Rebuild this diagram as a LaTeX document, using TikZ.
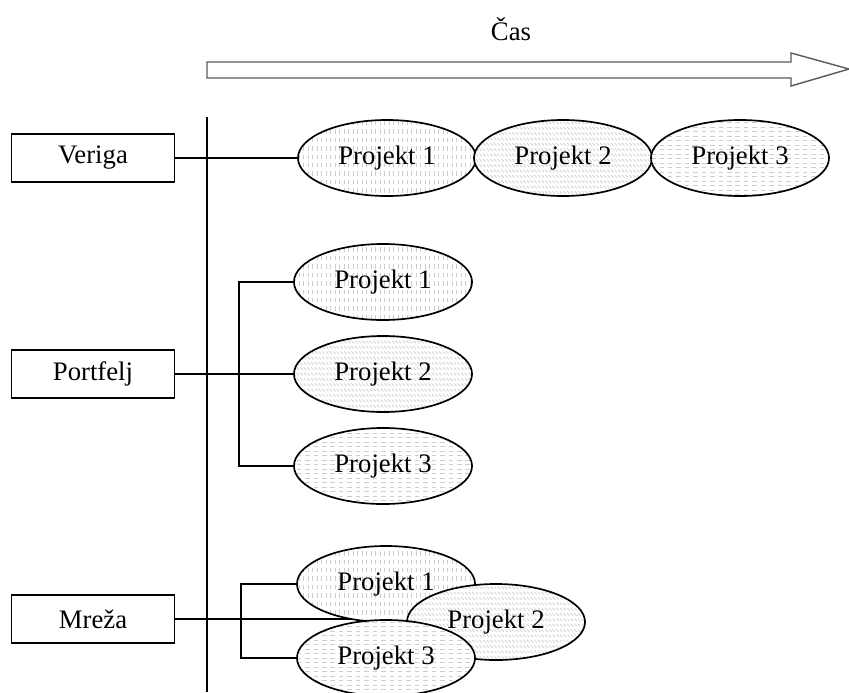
\documentclass[tikz,border=0pt]{standalone}
\usepackage{fontspec}
\setmainfont{Liberation Serif}
\usetikzlibrary{shapes.geometric,patterns}
\definecolor{crtagray}{RGB}{90, 90, 90}
\definecolor{vzorec}{RGB}{205, 205, 205}

% vzorci za polnjenje elips
\pgfdeclarepatternformonly{navpicne}{\pgfpoint{-1pt}{-1pt}}{\pgfpoint{5pt}{7pt}}{\pgfpoint{3.2pt}{6pt}}{%
  \pgfsetlinewidth{0.5pt}%
  \pgfpathmoveto{\pgfpoint{1.6pt}{1pt}}\pgfpathlineto{\pgfpoint{1.6pt}{4.2pt}}\pgfusepath{stroke}}
\pgfdeclarepatternformonly{posevne}{\pgfpoint{-1pt}{-1pt}}{\pgfpoint{4pt}{5pt}}{\pgfpoint{2.6pt}{3.8pt}}{%
  \pgfsetlinewidth{0.5pt}%
  \pgfpathmoveto{\pgfpoint{0.3pt}{2.8pt}}\pgfpathlineto{\pgfpoint{2.1pt}{1pt}}\pgfusepath{stroke}}
\pgfdeclarepatternformonly{vodoravne}{\pgfpoint{-1pt}{-1pt}}{\pgfpoint{7pt}{5pt}}{\pgfpoint{6pt}{3.2pt}}{%
  \pgfsetlinewidth{0.5pt}%
  \pgfpathmoveto{\pgfpoint{1pt}{1.6pt}}\pgfpathlineto{\pgfpoint{4.2pt}{1.6pt}}\pgfusepath{stroke}}

\tikzset{
  okvir/.style={draw, line width=1.2pt, minimum height=1.2cm, minimum width=4.08cm, inner sep=0pt},
  projekt/.style={ellipse, draw, line width=1.2pt, minimum width=4.45cm, minimum height=1.9cm,
    preaction={fill=white}, pattern color=vzorec, inner sep=0pt},
  p1/.style={projekt, pattern=navpicne},
  p2/.style={projekt, pattern=posevne},
  p3/.style={projekt, pattern=vodoravne},
  crta/.style={line width=1.2pt}
}

\begin{document}
\begin{tikzpicture}[x=0.025cm, y=-0.025cm, font=\fontsize{19}{23}\selectfont]
    \useasboundingbox (0,0) rectangle (849,692);

    % cas
    \node (cas) at (511,29) {Čas};
    \draw[draw=crtagray, line width=1pt, fill=white]
      (207,62) -- (791,62) -- (791,53) -- (849,69) -- (791,86) -- (791,78) -- (207,78) -- cycle;
    \coordinate (os1) at (207,117);
    \coordinate (os2) at (207,692);
    \draw[crta] (os1) -- (os2);

    % veriga
    \node[okvir] (veriga) at (93,158) {Veriga};
    \node[p1] (v1) at (387,158) {Projekt 1};
    \node[p2] (v2) at (563,158) {Projekt 2};
    \node[p3] (v3) at (740,158) {Projekt 3};
    \draw[crta] (veriga.east) -- (v1.west);

    % portfelj
    \node[okvir] (portfelj) at (93,374) {Portfelj};
    \node[p1] (f1) at (383,282) {Projekt 1};
    \node[p2] (f2) at (383,374) {Projekt 2};
    \node[p3] (f3) at (383,466) {Projekt 3};
    \draw[crta] (portfelj.east) -- (f2.west);
    \draw[crta] (f1.west) -- ++(-54,0) |- (f3.west);

    % mreza
    \node[okvir] (mreza) at (93,619) {Mreža};
    \draw[crta] (mreza.east) -- (mreza.east -| 497,0);
    \node[p1] (m1) at (386,584) {Projekt 1};
    \node[p2] (m2) at (496,622) {Projekt 2};
    \node[p3] (m3) at (386,658) {Projekt 3};
    \draw[crta] (m1.west) -- ++(-55,0) |- (m3.west);
  \end{tikzpicture}
\end{document}
